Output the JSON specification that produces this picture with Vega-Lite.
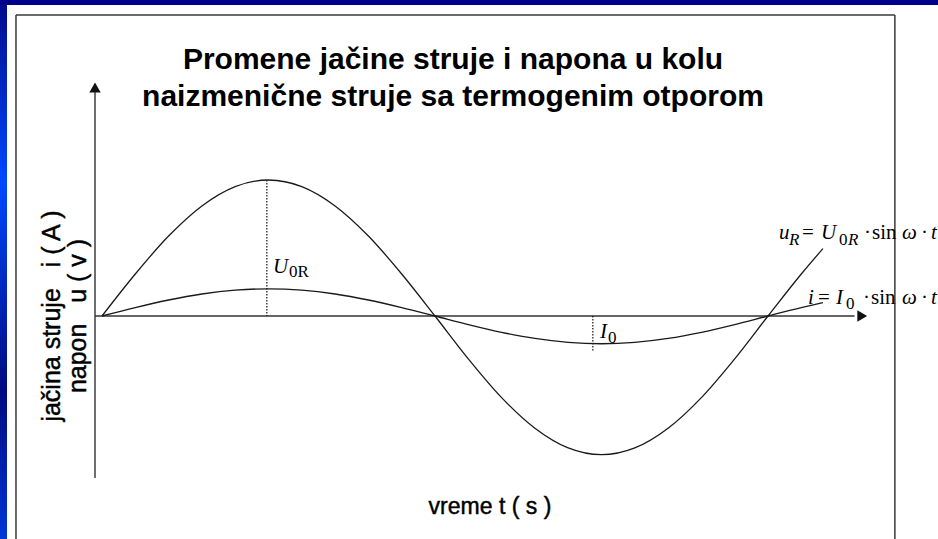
{
  "$schema": "https://vega.github.io/schema/vega-lite/v6.json",
  "width": 938,
  "height": 539,
  "autosize": {"type": "fit", "contains": "padding"},
  "padding": 0,
  "background": "#00008c",
  "config": {"view": {"stroke": null}},
  "data": {"values": [{}]},
  "datasets": {
    "wave": [
      {"t": 0, "u": 0, "i": 0},
      {"t": 1, "u": 3.09, "i": 0.618},
      {"t": 2, "u": 5.878, "i": 1.176},
      {"t": 3, "u": 8.09, "i": 1.618},
      {"t": 4, "u": 9.511, "i": 1.902},
      {"t": 5, "u": 10, "i": 2},
      {"t": 6, "u": 9.511, "i": 1.902},
      {"t": 7, "u": 8.09, "i": 1.618},
      {"t": 8, "u": 5.878, "i": 1.176},
      {"t": 9, "u": 3.09, "i": 0.618},
      {"t": 10, "u": 0, "i": 0},
      {"t": 11, "u": -3.15, "i": -0.63},
      {"t": 12, "u": -6.0, "i": -1.2},
      {"t": 13, "u": -8.25, "i": -1.65},
      {"t": 14, "u": -9.7, "i": -1.94},
      {"t": 15, "u": -10.2, "i": -2.04},
      {"t": 16, "u": -9.7, "i": -1.94},
      {"t": 17, "u": -8.25, "i": -1.65},
      {"t": 18, "u": -6.0, "i": -1.2},
      {"t": 19, "u": -3.15, "i": -0.63},
      {"t": 20, "u": 0, "i": 0},
      {"t": 21, "u": 3.09, "i": 0.618},
      {"t": 21.65, "u": 4.955, "i": 0.991}
    ],
    "notes": [
      {"label": "u", "t": 20.33, "v": 5.66, "kind": "var"},
      {"label": "R", "t": 20.631, "v": 5.22, "kind": "sub"},
      {"label": "=", "t": 21.021, "v": 5.66, "kind": "op"},
      {"label": "U", "t": 21.592, "v": 5.66, "kind": "var"},
      {"label": "0", "t": 22.132, "v": 5.22, "kind": "subUp"},
      {"label": "R", "t": 22.402, "v": 5.22, "kind": "sub"},
      {"label": "·", "t": 22.883, "v": 5.66, "kind": "op"},
      {"label": "sin", "t": 23.123, "v": 5.66, "kind": "op"},
      {"label": "ω", "t": 24.024, "v": 5.66, "kind": "var"},
      {"label": "·", "t": 24.595, "v": 5.66, "kind": "op"},
      {"label": "t", "t": 24.895, "v": 5.66, "kind": "var"},
      {"label": "i", "t": 21.201, "v": 0.882, "kind": "var"},
      {"label": "=", "t": 21.502, "v": 0.882, "kind": "op"},
      {"label": "I", "t": 22.042, "v": 0.882, "kind": "var"},
      {"label": "0", "t": 22.342, "v": 0.515, "kind": "subUp"},
      {"label": "·", "t": 22.853, "v": 0.882, "kind": "op"},
      {"label": "sin", "t": 23.093, "v": 0.882, "kind": "op"},
      {"label": "ω", "t": 24.024, "v": 0.882, "kind": "var"},
      {"label": "·", "t": 24.595, "v": 0.882, "kind": "op"},
      {"label": "t", "t": 24.895, "v": 0.882, "kind": "var"},
      {"label": "U", "t": 5.135, "v": 3.162, "kind": "var"},
      {"label": "0R", "t": 5.616, "v": 2.868, "kind": "subUp"},
      {"label": "I", "t": 14.955, "v": -1.618, "kind": "var"},
      {"label": "0", "t": 15.195, "v": -1.985, "kind": "subUp"}
    ]
  },
  "layer": [
    {
      "mark": {"type": "rect", "color": "white", "clip": true},
      "encoding": {
        "x": {"datum": -2.853, "type": "quantitative", "scale": {"domain": [-3.063, 25.105], "nice": false, "zero": false}, "axis": null},
        "x2": {"datum": 26},
        "y": {"datum": 22.87, "type": "quantitative", "scale": {"domain": [-16.397, 23.235], "nice": false, "zero": false}, "axis": null},
        "y2": {"datum": -17.5}
      }
    },
    {
      "mark": {
        "type": "rect",
        "clip": true,
        "color": {
          "gradient": "linear", "x1": 0, "y1": 0, "x2": 0, "y2": 1,
          "stops": [
            {"offset": 0, "color": "#000c8e"},
            {"offset": 0.33, "color": "#0048ff"},
            {"offset": 0.72, "color": "#000a80"},
            {"offset": 1, "color": "#0036d8"}
          ]
        }
      },
      "encoding": {
        "x": {"datum": -3.2, "type": "quantitative", "scale": {"domain": [-3.063, 25.105], "nice": false, "zero": false}, "axis": null},
        "x2": {"datum": -2.853},
        "y": {"datum": 22.87, "type": "quantitative", "scale": {"domain": [-16.397, 23.235], "nice": false, "zero": false}, "axis": null},
        "y2": {"datum": -16.5}
      }
    },
    {
      "mark": {"type": "rule", "color": "#3a3a3a", "strokeWidth": 1.5, "clip": true},
      "encoding": {
        "x": {"datum": -2.583, "type": "quantitative", "scale": {"domain": [-3.063, 25.105], "nice": false, "zero": false}, "axis": null},
        "y": {"datum": 22.13, "type": "quantitative", "scale": {"domain": [-16.397, 23.235], "nice": false, "zero": false}, "axis": null},
        "y2": {"datum": -17.5}
      }
    },
    {
      "mark": {"type": "rule", "color": "#3a3a3a", "strokeWidth": 1.5, "clip": true},
      "encoding": {
        "x": {"datum": 23.81, "type": "quantitative", "scale": {"domain": [-3.063, 25.105], "nice": false, "zero": false}, "axis": null},
        "y": {"datum": 22.13, "type": "quantitative", "scale": {"domain": [-16.397, 23.235], "nice": false, "zero": false}, "axis": null},
        "y2": {"datum": -17.5}
      }
    },
    {
      "mark": {"type": "rule", "color": "#3a3a3a", "strokeWidth": 1.5},
      "encoding": {
        "x": {"datum": -2.583, "type": "quantitative", "scale": {"domain": [-3.063, 25.105], "nice": false, "zero": false}, "axis": null},
        "x2": {"datum": 23.81},
        "y": {"datum": 22.13, "type": "quantitative", "scale": {"domain": [-16.397, 23.235], "nice": false, "zero": false}, "axis": null}
      }
    },
    {
      "mark": {"type": "rule", "color": "#555555", "strokeWidth": 1.7},
      "encoding": {
        "x": {"datum": -0.21, "type": "quantitative", "scale": {"domain": [-3.063, 25.105], "nice": false, "zero": false}, "axis": null},
        "y": {"datum": 16.6, "type": "quantitative", "scale": {"domain": [-16.397, 23.235], "nice": false, "zero": false}, "axis": null},
        "y2": {"datum": -11.91}
      }
    },
    {
      "mark": {"type": "rule", "color": "#333333", "strokeWidth": 1.5},
      "encoding": {
        "x": {"datum": -0.21, "type": "quantitative", "scale": {"domain": [-3.063, 25.105], "nice": false, "zero": false}, "axis": null},
        "x2": {"datum": 22.6},
        "y": {"datum": 0, "type": "quantitative", "scale": {"domain": [-16.397, 23.235], "nice": false, "zero": false}, "axis": null}
      }
    },
    {
      "mark": {"type": "point", "shape": "triangle-up", "filled": true, "size": 130, "color": "#111111", "opacity": 1},
      "encoding": {
        "x": {"datum": -0.21, "type": "quantitative", "scale": {"domain": [-3.063, 25.105], "nice": false, "zero": false}, "axis": null},
        "y": {"datum": 16.8, "type": "quantitative", "scale": {"domain": [-16.397, 23.235], "nice": false, "zero": false}, "axis": null}
      }
    },
    {
      "mark": {"type": "point", "shape": "triangle-right", "filled": true, "size": 130, "color": "#111111", "opacity": 1},
      "encoding": {
        "x": {"datum": 22.83, "type": "quantitative", "scale": {"domain": [-3.063, 25.105], "nice": false, "zero": false}, "axis": null},
        "y": {"datum": 0, "type": "quantitative", "scale": {"domain": [-16.397, 23.235], "nice": false, "zero": false}, "axis": null}
      }
    },
    {
      "mark": {"type": "rule", "color": "#111111", "strokeWidth": 1.2, "strokeDash": [1.5, 1.5]},
      "encoding": {
        "x": {"datum": 4.95, "type": "quantitative", "scale": {"domain": [-3.063, 25.105], "nice": false, "zero": false}, "axis": null},
        "y": {"datum": 10, "type": "quantitative", "scale": {"domain": [-16.397, 23.235], "nice": false, "zero": false}, "axis": null},
        "y2": {"datum": 0}
      }
    },
    {
      "mark": {"type": "rule", "color": "#111111", "strokeWidth": 1.2, "strokeDash": [1.5, 1.5]},
      "encoding": {
        "x": {"datum": 14.74, "type": "quantitative", "scale": {"domain": [-3.063, 25.105], "nice": false, "zero": false}, "axis": null},
        "y": {"datum": 0, "type": "quantitative", "scale": {"domain": [-16.397, 23.235], "nice": false, "zero": false}, "axis": null},
        "y2": {"datum": -2.6}
      }
    },
    {
      "data": {"name": "wave"},
      "mark": {"type": "line", "color": "#1a1a1a", "strokeWidth": 1.3, "interpolate": "monotone"},
      "encoding": {
        "x": {"field": "t", "type": "quantitative", "scale": {"domain": [-3.063, 25.105], "nice": false, "zero": false}, "axis": null},
        "y": {"field": "u", "type": "quantitative", "scale": {"domain": [-16.397, 23.235], "nice": false, "zero": false}, "axis": null}
      }
    },
    {
      "data": {"name": "wave"},
      "mark": {"type": "line", "color": "#1a1a1a", "strokeWidth": 1.3, "interpolate": "monotone"},
      "encoding": {
        "x": {"field": "t", "type": "quantitative", "scale": {"domain": [-3.063, 25.105], "nice": false, "zero": false}, "axis": null},
        "y": {"field": "i", "type": "quantitative", "scale": {"domain": [-16.397, 23.235], "nice": false, "zero": false}, "axis": null}
      }
    },
    {
      "mark": {"type": "text", "text": "Promene jačine struje i napona u kolu", "font": "Liberation Sans", "fontWeight": "bold", "fontSize": 30, "align": "center", "baseline": "alphabetic", "color": "#000000"},
      "encoding": {
        "x": {"datum": 10.54, "type": "quantitative", "scale": {"domain": [-3.063, 25.105], "nice": false, "zero": false}, "axis": null},
        "y": {"datum": 18.16, "type": "quantitative", "scale": {"domain": [-16.397, 23.235], "nice": false, "zero": false}, "axis": null}
      }
    },
    {
      "mark": {"type": "text", "text": "naizmenične struje sa termogenim otporom", "font": "Liberation Sans", "fontWeight": "bold", "fontSize": 30, "align": "center", "baseline": "alphabetic", "color": "#000000"},
      "encoding": {
        "x": {"datum": 10.54, "type": "quantitative", "scale": {"domain": [-3.063, 25.105], "nice": false, "zero": false}, "axis": null},
        "y": {"datum": 15.44, "type": "quantitative", "scale": {"domain": [-16.397, 23.235], "nice": false, "zero": false}, "axis": null}
      }
    },
    {
      "mark": {"type": "text", "text": "jačina struje\u00a0\u00a0 i ( A )", "font": "Liberation Sans", "fontSize": 25, "stroke": "#000000", "strokeWidth": 0.45, "angle": 270, "align": "center", "baseline": "middle", "color": "#000000"},
      "encoding": {
        "x": {"datum": -1.5, "type": "quantitative", "scale": {"domain": [-3.063, 25.105], "nice": false, "zero": false}, "axis": null},
        "y": {"datum": 0, "type": "quantitative", "scale": {"domain": [-16.397, 23.235], "nice": false, "zero": false}, "axis": null}
      }
    },
    {
      "mark": {"type": "text", "text": "napon\u00a0\u00a0 u ( v )", "font": "Liberation Sans", "fontSize": 25, "stroke": "#000000", "strokeWidth": 0.45, "angle": 270, "align": "center", "baseline": "middle", "color": "#000000"},
      "encoding": {
        "x": {"datum": -0.72, "type": "quantitative", "scale": {"domain": [-3.063, 25.105], "nice": false, "zero": false}, "axis": null},
        "y": {"datum": 0, "type": "quantitative", "scale": {"domain": [-16.397, 23.235], "nice": false, "zero": false}, "axis": null}
      }
    },
    {
      "mark": {"type": "text", "text": "vreme t ( s )", "font": "Liberation Sans", "fontSize": 23, "stroke": "#000000", "strokeWidth": 0.45, "align": "center", "baseline": "middle", "color": "#000000"},
      "encoding": {
        "x": {"datum": 11.65, "type": "quantitative", "scale": {"domain": [-3.063, 25.105], "nice": false, "zero": false}, "axis": null},
        "y": {"datum": -14.04, "type": "quantitative", "scale": {"domain": [-16.397, 23.235], "nice": false, "zero": false}, "axis": null}
      }
    },
    {
      "data": {"name": "notes"},
      "transform": [{"filter": "datum.kind === 'var'"}],
      "mark": {"type": "text", "font": "Liberation Serif", "fontStyle": "italic", "fontSize": 21, "align": "left", "baseline": "alphabetic", "color": "#000000", "clip": true},
      "encoding": {
        "x": {"field": "t", "type": "quantitative", "scale": {"domain": [-3.063, 25.105], "nice": false, "zero": false}, "axis": null},
        "y": {"field": "v", "type": "quantitative", "scale": {"domain": [-16.397, 23.235], "nice": false, "zero": false}, "axis": null},
        "text": {"field": "label"}
      }
    },
    {
      "data": {"name": "notes"},
      "transform": [{"filter": "datum.kind === 'op'"}],
      "mark": {"type": "text", "font": "Liberation Serif", "fontSize": 21, "align": "left", "baseline": "alphabetic", "color": "#000000", "clip": true},
      "encoding": {
        "x": {"field": "t", "type": "quantitative", "scale": {"domain": [-3.063, 25.105], "nice": false, "zero": false}, "axis": null},
        "y": {"field": "v", "type": "quantitative", "scale": {"domain": [-16.397, 23.235], "nice": false, "zero": false}, "axis": null},
        "text": {"field": "label"}
      }
    },
    {
      "data": {"name": "notes"},
      "transform": [{"filter": "datum.kind === 'sub'"}],
      "mark": {"type": "text", "font": "Liberation Serif", "fontStyle": "italic", "fontSize": 17, "align": "left", "baseline": "alphabetic", "color": "#000000", "clip": true},
      "encoding": {
        "x": {"field": "t", "type": "quantitative", "scale": {"domain": [-3.063, 25.105], "nice": false, "zero": false}, "axis": null},
        "y": {"field": "v", "type": "quantitative", "scale": {"domain": [-16.397, 23.235], "nice": false, "zero": false}, "axis": null},
        "text": {"field": "label"}
      }
    },
    {
      "data": {"name": "notes"},
      "transform": [{"filter": "datum.kind === 'subUp'"}],
      "mark": {"type": "text", "font": "Liberation Serif", "fontSize": 17, "align": "left", "baseline": "alphabetic", "color": "#000000", "clip": true},
      "encoding": {
        "x": {"field": "t", "type": "quantitative", "scale": {"domain": [-3.063, 25.105], "nice": false, "zero": false}, "axis": null},
        "y": {"field": "v", "type": "quantitative", "scale": {"domain": [-16.397, 23.235], "nice": false, "zero": false}, "axis": null},
        "text": {"field": "label"}
      }
    }
  ]
}
